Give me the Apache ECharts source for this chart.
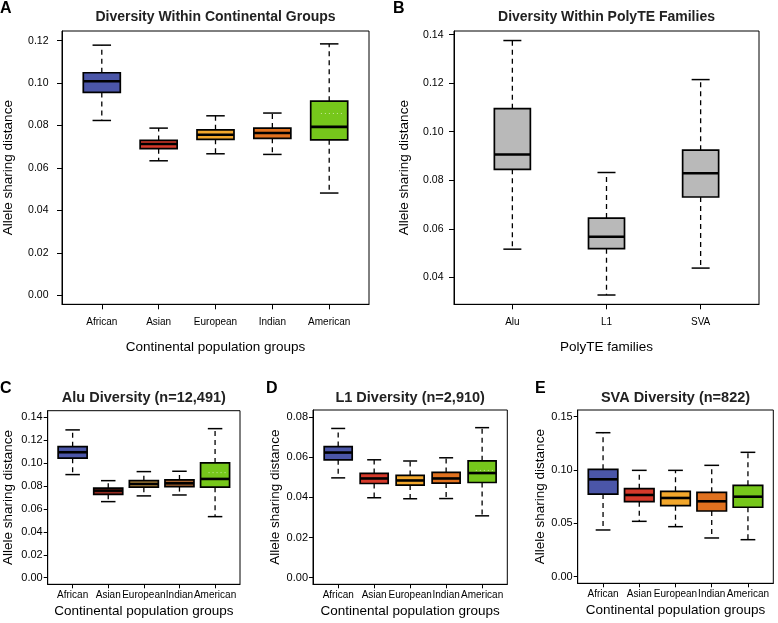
<!DOCTYPE html>
<html><head><meta charset="utf-8">
<script src="https://cdn.jsdelivr.net/npm/echarts@6/dist/echarts.min.js"></script>
<style>html,body{margin:0;padding:0;background:#fff}#c{width:778px;height:623px}</style>
</head><body><div id="c"></div>
<script>
// ---------- categories ----------
const continentalGroups = ['African', 'Asian', 'European', 'Indian', 'American'];
const polyTEFamilies = ['Alu', 'L1', 'SVA'];

// ---------- Panel A: Diversity Within Continental Groups ----------
const aLower  = [0.0824, 0.0634, 0.0667, 0.0664, 0.0482];
const aQ1     = [0.0956, 0.0691, 0.0735, 0.0740, 0.0733];
const aMedian = [0.1009, 0.0713, 0.0757, 0.0765, 0.0794];
const aQ3     = [0.1049, 0.0730, 0.0780, 0.0788, 0.0915];
const aUpper  = [0.1179, 0.0788, 0.0846, 0.0859, 0.1185];
const aMean   = [null, null, null, null, 0.0857];
const aYTicks = [0, 0.02, 0.04, 0.06, 0.08, 0.10, 0.12];

// ---------- Panel B: Diversity Within PolyTE Families ----------
const bLower  = [0.0516, 0.0327, 0.0438];
const bQ1     = [0.0845, 0.0518, 0.0731];
const bMedian = [0.0906, 0.0567, 0.0829];
const bQ3     = [0.1095, 0.0644, 0.0924];
const bUpper  = [0.1376, 0.0832, 0.1215];
const bMean   = [null, null, null];
const bYTicks = [0.04, 0.06, 0.08, 0.10, 0.12, 0.14];

// ---------- Panel C: Alu Diversity ----------
const cLower  = [0.0900, 0.0664, 0.0714, 0.0722, 0.0533];
const cQ1     = [0.1043, 0.0728, 0.0790, 0.0795, 0.0790];
const cMedian = [0.1095, 0.0760, 0.0818, 0.0824, 0.0862];
const cQ3     = [0.1144, 0.0781, 0.0847, 0.0853, 0.1002];
const cUpper  = [0.1290, 0.0847, 0.0926, 0.0929, 0.1301];
const cMean   = [null, null, null, null, 0.0917];
const cYTicks = [0, 0.02, 0.04, 0.06, 0.08, 0.10, 0.12, 0.14];

// ---------- Panel D: L1 Diversity ----------
const dLower  = [0.0497, 0.0398, 0.0393, 0.0394, 0.0308];
const dQ1     = [0.0587, 0.0469, 0.0461, 0.0471, 0.0474];
const dMedian = [0.0623, 0.0494, 0.0484, 0.0494, 0.0521];
const dQ3     = [0.0653, 0.0519, 0.0509, 0.0524, 0.0582];
const dUpper  = [0.0743, 0.0587, 0.0581, 0.0597, 0.0747];
const dMean   = [null, null, null, null, 0.0534];
const dYTicks = [0, 0.02, 0.04, 0.06, 0.08];

// ---------- Panel E: SVA Diversity ----------
const eLower  = [0.0438, 0.0519, 0.0469, 0.0363, 0.0347];
const eQ1     = [0.0775, 0.0703, 0.0666, 0.0616, 0.0651];
const eMedian = [0.0913, 0.0766, 0.0738, 0.0707, 0.0750];
const eQ3     = [0.1007, 0.0825, 0.0800, 0.0791, 0.0857];
const eUpper  = [0.1350, 0.0997, 0.0997, 0.1044, 0.1166];
const eMean   = [null, null, null, null, null];
const eYTicks = [0, 0.05, 0.10, 0.15];

// ---------- styles ----------
const popColors = ['#4B56A8', '#D63A2B', '#F2A72C', '#E0711F', '#76C71B'];
const aluColors = ['#4B56A8', '#962B20', '#BC8E3E', '#A8622C', '#76C71B'];
const greyColors = ['#B9B9B9', '#B9B9B9', '#B9B9B9'];
const FONT = "'Liberation Sans', Arial, Helvetica, sans-serif";

const panels = [
  { letter: 'A', title: 'Diversity Within Continental Groups', cats: continentalGroups,
    stats: [aLower, aQ1, aMedian, aQ3, aUpper], mean: aMean, yTicks: aYTicks, colors: popColors,
    grid: { left: 62, top: 31, width: 307, height: 273.3 }, yMin: -0.00424, yMax: 0.12457,
    xMin: 0.3, xMax: 5.7, boxW: 37, big: true, yDec: 2,
    xName: 'Continental population groups', yNameGap: 47, yLabelMargin: 13.5, xLabelMargin: 13, xNameGap: 36,
    letterPos: [0, 1], titleTop: 10 },
  { letter: 'B', title: 'Diversity Within PolyTE Families', cats: polyTEFamilies,
    stats: [bLower, bQ1, bMedian, bQ3, bUpper], mean: bMean, yTicks: bYTicks, colors: greyColors,
    grid: { left: 454, top: 31, width: 305, height: 273.3 }, yMin: 0.02887, yMax: 0.14153,
    xMin: 0.38, xMax: 3.62, boxW: 36, big: true, yDec: 2,
    xName: 'PolyTE families', yNameGap: 43, yLabelMargin: 10.5, xLabelMargin: 13, xNameGap: 36,
    letterPos: [393, 1], titleTop: 10 },
  { letter: 'C', title: 'Alu Diversity (n=12,491)', cats: continentalGroups,
    stats: [cLower, cQ1, cMedian, cQ3, cUpper], mean: cMean, yTicks: cYTicks, colors: aluColors,
    grid: { left: 47.7, top: 410.7, width: 192.3, height: 173.6 }, yMin: -0.00576, yMax: 0.14576,
    xMin: 0.3, xMax: 5.7, boxW: 29, big: false, yDec: 2,
    xName: 'Continental population groups', yNameGap: 32, yLabelMargin: 5, xLabelMargin: 6, xNameGap: 20,
    letterPos: [0, 381], titleTop: 390 },
  { letter: 'D', title: 'L1 Diversity (n=2,910)', cats: continentalGroups,
    stats: [dLower, dQ1, dMedian, dQ3, dUpper], mean: dMean, yTicks: dYTicks, colors: popColors,
    grid: { left: 313, top: 410, width: 194.3, height: 174.3 }, yMin: -0.00329, yMax: 0.08349,
    xMin: 0.3, xMax: 5.7, boxW: 28, big: false, yDec: 2,
    xName: 'Continental population groups', yNameGap: 31, yLabelMargin: 5, xLabelMargin: 6, xNameGap: 20,
    letterPos: [266, 381], titleTop: 390 },
  { letter: 'E', title: 'SVA Diversity (n=822)', cats: continentalGroups,
    stats: [eLower, eQ1, eMedian, eQ3, eUpper], mean: eMean, yTicks: eYTicks, colors: popColors,
    grid: { left: 577.7, top: 410, width: 195.6, height: 173.3 }, yMin: -0.00619, yMax: 0.15628,
    xMin: 0.3, xMax: 5.7, boxW: 29.5, big: false, yDec: 2,
    xName: 'Continental population groups', yNameGap: 30, yLabelMargin: 5, xLabelMargin: 6, xNameGap: 20,
    letterPos: [535, 381], titleTop: 390 }
];

function boxRenderer(panel) {
  return function (params, api) {
    const i = params.dataIndex;
    const x = api.value(0);
    const pLo = api.coord([x, api.value(1)]);
    const pQ1 = api.coord([x, api.value(2)]);
    const pMed = api.coord([x, api.value(3)]);
    const pQ3 = api.coord([x, api.value(4)]);
    const pHi = api.coord([x, api.value(5)]);
    const cx = pLo[0];
    const hw = panel.boxW / 2;
    const cw = panel.boxW / 4;
    const dash = { stroke: '#000', lineWidth: 1.3, lineDash: [5, 4], fill: null };
    const solid = { stroke: '#000', lineWidth: 1.5, fill: null };
    const children = [
      { type: 'line', shape: { x1: cx, y1: pQ3[1], x2: cx, y2: pHi[1] }, style: dash },
      { type: 'line', shape: { x1: cx, y1: pQ1[1], x2: cx, y2: pLo[1] }, style: dash },
      { type: 'line', shape: { x1: cx - cw, y1: pHi[1], x2: cx + cw, y2: pHi[1] }, style: solid },
      { type: 'line', shape: { x1: cx - cw, y1: pLo[1], x2: cx + cw, y2: pLo[1] }, style: solid },
      { type: 'rect', shape: { x: cx - hw, y: pQ3[1], width: panel.boxW, height: pQ1[1] - pQ3[1] },
        style: { fill: panel.colors[i], stroke: '#000', lineWidth: 1.7 } },
      { type: 'line', shape: { x1: cx - hw, y1: pMed[1], x2: cx + hw, y2: pMed[1] },
        style: { stroke: '#000', lineWidth: 2.6, fill: null } }
    ];
    const m = panel.mean[i];
    if (m != null) {
      const pm = api.coord([x, m]);
      children.push({ type: 'line', shape: { x1: cx - hw * 0.45, y1: pm[1], x2: cx + hw * 0.8, y2: pm[1] },
        style: { stroke: 'rgba(255,255,255,0.6)', lineWidth: 1, lineDash: [1, 3], fill: null } });
    }
    return { type: 'group', children: children };
  };
}

const grids = [], xAxes = [], yAxes = [], series = [], titles = [];
panels.forEach(function (p, k) {
  const catTicks = p.cats.map(function (c, i) { return i + 1; });
  const tickLen = p.big ? 5 : 4;
  grids.push(Object.assign({ show: true, borderColor: '#000', borderWidth: 1, backgroundColor: 'transparent', containLabel: false }, p.grid));
  xAxes.push({
    type: 'value', gridIndex: k, min: p.xMin, max: p.xMax, position: 'bottom',
    axisLine: { show: true, onZero: false, lineStyle: { color: '#000', width: 1 } }, splitLine: { show: false },
    axisTick: { show: true, inside: false, customValues: catTicks, length: tickLen, lineStyle: { color: '#000', width: 1 } },
    axisLabel: { customValues: catTicks, margin: p.xLabelMargin, fontSize: 10, color: '#000', fontFamily: FONT,
      formatter: (function (cats) { return function (v) { return cats[Math.round(v) - 1] || ''; }; })(p.cats) },
    name: p.xName, nameLocation: 'middle', nameGap: p.xNameGap,
    nameTextStyle: { fontSize: 13.5, color: '#000', fontFamily: FONT }
  });
  yAxes.push({
    type: 'value', gridIndex: k, min: p.yMin, max: p.yMax, position: 'left',
    axisLine: { show: true, onZero: false, lineStyle: { color: '#000', width: 1 } }, splitLine: { show: false },
    axisTick: { show: true, inside: false, customValues: p.yTicks, length: tickLen, lineStyle: { color: '#000', width: 1 } },
    axisLabel: { customValues: p.yTicks, margin: p.yLabelMargin, fontSize: p.big ? 10.5 : 11, color: '#000', fontFamily: FONT,
      formatter: (function (d) { return function (v) { return v.toFixed(d); }; })(p.yDec) },
    name: 'Allele sharing distance', nameLocation: 'middle', nameGap: p.yNameGap, nameRotate: 90,
    nameTextStyle: { fontSize: 13.5, color: '#000', fontFamily: FONT }
  });
  const data = p.cats.map(function (c, i) {
    return [i + 1, p.stats[0][i], p.stats[1][i], p.stats[2][i], p.stats[3][i], p.stats[4][i]];
  });
  series.push({
    type: 'custom', xAxisIndex: k, yAxisIndex: k, data: data,
    encode: { x: 0, y: [1, 2, 3, 4, 5] },
    renderItem: boxRenderer(p), silent: true, clip: false
  });
  titles.push({
    text: p.title, left: p.grid.left + p.grid.width / 2, top: p.titleTop, textAlign: 'center', padding: 0,
    textStyle: { fontSize: p.big ? 14 : 14.5, fontWeight: 'bold', color: '#222', fontFamily: FONT }
  });
  titles.push({
    text: p.letter, left: p.letterPos[0], top: p.letterPos[1], padding: 0,
    textStyle: { fontSize: 16, fontWeight: 'bold', color: '#000', fontFamily: FONT }
  });
});

const chart = echarts.init(document.getElementById('c'), null, { renderer: 'canvas' });
chart.setOption({
  animation: false,
  backgroundColor: '#fff',
  title: titles,
  grid: grids,
  xAxis: xAxes,
  yAxis: yAxes,
  series: series
});
</script>
</body></html>
